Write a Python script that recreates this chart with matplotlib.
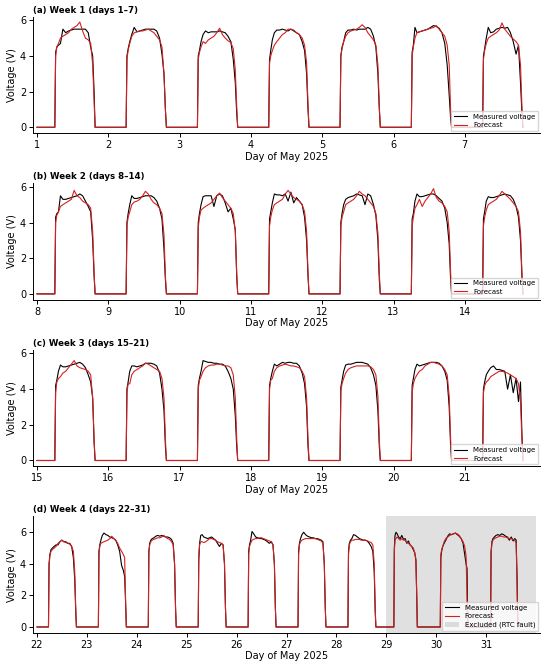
import numpy as np
import matplotlib
matplotlib.use("Agg")
import matplotlib.pyplot as plt

# --- data ------------------------------------------------------------------
# pulse start / end (fraction of the day) for May 1..31
rise = [0.25] * 21 + [0.23] * 7 + [0.15, 0.08, 0.087]
sset = [0.815] * 21 + [0.79] * 7 + [0.62, 0.63, 0.633]

# relative positions inside each daylight pulse where values were read
POS = [0.02, 0.05, 0.09, 0.14, 0.20, 0.27, 0.34, 0.41, 0.48, 0.55,
       0.62, 0.69, 0.76, 0.83, 0.89, 0.94, 0.975]

meas_w1 = [
    [4.2, 4.5, 4.6, 4.7, 5.5, 5.3, 5.4, 5.45, 5.5, 5.5, 5.5, 5.5, 5.5, 5.3, 4.5, 4.0, 2.0],
    [4.0, 4.4, 4.8, 5.2, 5.6, 5.35, 5.4, 5.45, 5.5, 5.5, 5.5, 5.5, 5.4, 5.0, 4.1, 3.0, 1.0],
    [4.0, 4.3, 4.8, 5.2, 5.4, 5.3, 5.35, 5.35, 5.35, 5.4, 5.35, 5.3, 5.1, 4.8, 3.8, 2.5, 0.8],
    [3.8, 4.3, 4.9, 5.3, 5.45, 5.45, 5.5, 5.45, 5.4, 5.5, 5.4, 5.3, 5.2, 4.8, 4.3, 3.0, 1.0],
    [4.0, 4.5, 4.8, 5.3, 5.45, 5.45, 5.5, 5.45, 5.5, 5.5, 5.5, 5.6, 5.5, 5.1, 4.5, 3.0, 1.0],
    [4.2, 4.6, 5.6, 5.3, 5.35, 5.4, 5.45, 5.5, 5.6, 5.7, 5.65, 5.55, 5.3, 4.7, 3.5, 1.8, 0.5],
    [4.0, 4.4, 5.0, 5.6, 5.3, 5.35, 5.5, 5.55, 5.6, 5.55, 5.6, 5.3, 4.8, 4.1, 4.6, 2.5, 0.8],
]
fc_w1 = [
    [4.0, 4.5, 4.7, 5.0, 5.1, 5.2, 5.3, 5.5, 5.6, 5.7, 5.9, 5.4, 5.0, 4.9, 4.7, 3.5, 1.5],
    [3.8, 4.3, 4.7, 5.1, 5.3, 5.35, 5.4, 5.4, 5.45, 5.5, 5.4, 5.3, 5.1, 4.9, 4.5, 3.0, 1.0],
    [3.8, 4.2, 4.5, 4.8, 4.7, 4.9, 5.0, 5.1, 5.3, 5.55, 5.2, 5.0, 4.85, 4.75, 4.4, 3.2, 1.2],
    [3.6, 4.0, 4.3, 4.6, 4.8, 5.0, 5.2, 5.3, 5.5, 5.5, 5.45, 5.3, 5.2, 5.0, 4.6, 3.6, 1.3],
    [4.0, 4.4, 4.8, 5.1, 5.3, 5.4, 5.45, 5.5, 5.6, 5.75, 5.6, 5.3, 5.1, 4.9, 4.6, 3.5, 1.2],
    [4.0, 4.5, 5.0, 5.3, 5.35, 5.4, 5.45, 5.5, 5.55, 5.6, 5.7, 5.5, 5.3, 5.1, 4.6, 3.5, 1.0],
    [3.8, 4.3, 4.7, 5.0, 5.1, 5.2, 5.3, 5.45, 5.85, 5.5, 5.3, 5.1, 4.95, 4.8, 4.6, 3.5, 1.2],
]

meas_w2 = [
    [4.3, 4.5, 4.6, 5.5, 5.3, 5.3, 5.35, 5.4, 5.45, 5.5, 5.6, 5.5, 5.2, 4.9, 4.6, 3.0, 1.0],
    [4.0, 4.5, 5.0, 5.5, 5.35, 5.35, 5.4, 5.45, 5.5, 5.5, 5.5, 5.4, 5.2, 4.8, 4.2, 2.5, 0.8],
    [4.0, 4.5, 5.0, 5.45, 5.5, 5.5, 5.5, 4.9, 5.5, 5.6, 5.5, 5.1, 4.6, 4.8, 4.2, 3.6, 1.0],
    [4.2, 4.6, 5.1, 5.6, 5.55, 5.55, 5.5, 5.6, 5.2, 5.7, 5.1, 5.4, 5.2, 5.0, 4.3, 3.0, 1.0],
    [4.0, 4.5, 5.0, 5.3, 5.4, 5.45, 5.5, 5.6, 5.55, 5.5, 5.0, 5.6, 5.5, 5.0, 4.4, 3.0, 0.8],
    [4.2, 4.5, 5.2, 5.6, 5.45, 5.45, 5.5, 5.55, 5.6, 5.6, 5.5, 5.35, 5.2, 4.8, 4.0, 2.8, 0.8],
    [4.2, 4.6, 5.2, 5.45, 5.4, 5.4, 5.45, 5.5, 5.55, 5.6, 5.55, 5.5, 5.3, 4.9, 4.3, 3.0, 1.0],
]
fc_w2 = [
    [4.0, 4.4, 4.6, 4.9, 5.0, 5.1, 5.2, 5.3, 5.8, 5.5, 5.4, 5.2, 5.1, 5.0, 4.8, 3.5, 1.2],
    [3.8, 4.3, 4.6, 5.0, 5.15, 5.2, 5.3, 5.5, 5.75, 5.6, 5.3, 5.1, 5.0, 4.8, 4.5, 3.3, 1.0],
    [3.7, 4.3, 4.7, 4.8, 4.9, 5.0, 5.1, 5.3, 5.5, 5.65, 5.4, 5.2, 5.0, 4.8, 4.5, 3.5, 1.2],
    [3.8, 4.3, 4.7, 5.0, 5.1, 5.2, 5.3, 5.6, 5.8, 5.6, 5.4, 5.3, 5.2, 5.0, 4.6, 3.5, 1.2],
    [3.8, 4.3, 4.6, 5.0, 5.1, 5.2, 5.3, 5.5, 5.75, 5.6, 5.5, 5.3, 5.1, 4.9, 4.5, 3.4, 1.2],
    [3.8, 4.3, 4.8, 5.0, 5.3, 4.9, 5.2, 5.4, 5.6, 5.9, 5.4, 5.2, 5.1, 4.9, 4.6, 3.5, 1.2],
    [3.8, 4.3, 4.7, 5.0, 5.1, 5.2, 5.3, 5.5, 5.75, 5.6, 5.45, 5.3, 5.1, 4.9, 4.6, 3.5, 1.2],
]

meas_w3 = [
    [4.2, 4.5, 5.0, 5.35, 5.25, 5.25, 5.3, 5.35, 5.4, 5.45, 5.5, 5.4, 5.2, 4.8, 4.4, 3.5, 1.0],
    [4.0, 4.4, 5.0, 5.3, 5.3, 5.25, 5.3, 5.35, 5.45, 5.45, 5.45, 5.4, 5.3, 4.9, 4.0, 2.8, 0.8],
    [4.2, 4.6, 5.0, 5.6, 5.55, 5.5, 5.5, 5.45, 5.45, 5.4, 5.4, 5.3, 5.0, 4.6, 4.0, 2.5, 0.8],
    [4.2, 4.6, 5.0, 5.4, 5.3, 5.4, 5.5, 5.45, 5.5, 5.5, 5.45, 5.45, 5.3, 4.9, 4.3, 3.0, 0.8],
    [4.1, 4.5, 5.0, 5.35, 5.4, 5.4, 5.45, 5.5, 5.5, 5.5, 5.45, 5.4, 5.2, 4.8, 4.2, 2.8, 0.8],
    [4.2, 4.6, 5.1, 5.4, 5.3, 5.35, 5.4, 5.45, 5.5, 5.5, 5.5, 5.45, 5.3, 5.0, 4.5, 3.0, 0.8],
    [4.0, 4.4, 4.8, 5.0, 5.2, 5.3, 5.1, 5.1, 5.05, 5.0, 4.0, 4.8, 3.8, 4.6, 3.3, 4.4, 1.5],
]
fc_w3 = [
    [3.8, 4.4, 4.6, 4.7, 4.9, 5.0, 5.2, 5.4, 5.6, 5.3, 5.2, 5.15, 5.1, 5.0, 4.8, 3.5, 1.2],
    [3.8, 4.3, 4.3, 4.8, 5.0, 5.1, 5.2, 5.3, 5.45, 5.4, 5.3, 5.2, 5.1, 5.0, 4.6, 3.5, 1.2],
    [4.0, 4.5, 4.7, 5.0, 5.2, 5.3, 5.35, 5.35, 5.4, 5.4, 5.35, 5.3, 5.3, 5.2, 4.8, 3.5, 1.2],
    [4.0, 4.5, 4.6, 5.0, 5.2, 5.3, 5.35, 5.4, 5.35, 5.3, 5.3, 5.25, 5.2, 5.0, 4.7, 3.5, 1.2],
    [3.9, 4.3, 4.6, 4.9, 5.1, 5.2, 5.25, 5.3, 5.3, 5.3, 5.3, 5.3, 5.25, 5.1, 4.8, 3.6, 1.2],
    [3.8, 4.3, 4.6, 4.8, 5.0, 5.1, 5.3, 5.4, 5.5, 5.5, 5.45, 5.4, 5.3, 5.1, 4.8, 3.6, 1.2],
    [3.8, 4.2, 4.4, 4.5, 4.7, 4.8, 4.9, 5.0, 5.0, 4.95, 4.9, 4.8, 4.7, 4.6, 4.3, 3.3, 1.2],
]

meas_w4 = [
    [4.0, 4.6, 4.9, 5.0, 5.1, 5.2, 5.2, 5.4, 5.5, 5.4, 5.4, 5.3, 5.3, 5.1, 4.4, 3.0, 1.0],
    [4.8, 5.2, 5.5, 5.8, 5.95, 5.85, 5.8, 5.7, 5.65, 5.6, 5.5, 5.2, 4.8, 3.9, 3.6, 3.2, 1.5],
    [4.8, 5.3, 5.5, 5.6, 5.65, 5.75, 5.8, 5.75, 5.8, 5.75, 5.7, 5.7, 5.65, 5.55, 5.3, 4.0, 1.2],
    [4.2, 5.3, 5.8, 5.85, 5.7, 5.65, 5.6, 5.65, 5.7, 5.6, 5.5, 5.3, 5.1, 5.3, 5.2, 4.0, 1.2],
    [4.8, 5.2, 5.5, 6.05, 5.9, 5.7, 5.65, 5.6, 5.6, 5.55, 5.5, 5.4, 5.3, 5.4, 5.2, 4.0, 1.2],
    [4.8, 5.3, 5.6, 5.85, 6.0, 5.85, 5.75, 5.7, 5.65, 5.65, 5.6, 5.6, 5.55, 5.5, 5.4, 4.0, 1.2],
    [4.8, 5.3, 5.5, 5.6, 5.85, 5.8, 5.7, 5.6, 5.55, 5.5, 5.5, 5.45, 5.3, 5.1, 4.8, 3.5, 1.0],
    [5.0, 5.8, 6.0, 5.9, 5.7, 5.6, 5.8, 5.55, 5.6, 5.3, 5.45, 5.2, 5.1, 4.9, 4.7, 4.2, 2.0],
    [4.4, 4.8, 5.1, 5.3, 5.5, 5.75, 5.9, 5.85, 5.9, 5.95, 5.85, 5.75, 5.6, 5.3, 4.6, 4.0, 3.7],
    [4.8, 5.4, 5.6, 5.7, 5.8, 5.85, 5.8, 5.9, 5.85, 5.75, 5.7, 5.5, 5.7, 5.45, 5.6, 5.5, 3.0],
]
fc_w4 = [
    [3.8, 4.5, 4.8, 4.9, 5.0, 5.1, 5.3, 5.4, 5.5, 5.4, 5.35, 5.3, 5.25, 5.1, 4.8, 3.5, 1.2],
    [4.6, 5.1, 5.3, 5.35, 5.4, 5.45, 5.5, 5.6, 5.75, 5.6, 5.5, 5.3, 5.0, 4.8, 4.6, 4.4, 1.5],
    [4.6, 5.2, 5.4, 5.5, 5.55, 5.6, 5.65, 5.65, 5.7, 5.8, 5.7, 5.6, 5.55, 5.4, 5.2, 4.0, 1.2],
    [4.6, 5.2, 5.4, 5.4, 5.35, 5.4, 5.5, 5.6, 5.6, 5.55, 5.5, 5.4, 5.35, 5.3, 5.2, 4.0, 1.2],
    [4.6, 5.1, 5.3, 5.5, 5.55, 5.6, 5.6, 5.65, 5.65, 5.6, 5.55, 5.5, 5.45, 5.4, 5.2, 4.0, 1.2],
    [4.6, 5.2, 5.4, 5.5, 5.55, 5.6, 5.6, 5.6, 5.6, 5.6, 5.6, 5.55, 5.5, 5.45, 5.3, 4.0, 1.2],
    [4.6, 5.2, 5.4, 5.5, 5.5, 5.55, 5.55, 5.55, 5.5, 5.5, 5.5, 5.45, 5.4, 5.35, 5.2, 4.0, 1.2],
    [4.8, 5.5, 5.6, 5.7, 5.6, 5.5, 5.6, 5.5, 5.5, 5.35, 5.3, 5.2, 5.1, 5.0, 4.7, 4.3, 2.0],
    [4.6, 4.9, 5.1, 5.4, 5.6, 5.7, 5.8, 5.85, 5.9, 5.95, 5.9, 5.8, 5.6, 5.4, 5.1, 4.5, 2.0],
    [4.6, 5.3, 5.5, 5.6, 5.65, 5.7, 5.75, 5.75, 5.7, 5.7, 5.65, 5.6, 5.6, 5.55, 5.5, 5.3, 2.5],
]

week_days = [list(range(1, 8)), list(range(8, 15)), list(range(15, 22)), list(range(22, 32))]
week_titles = ["(a) Week 1 (days 1\u20137)", "(b) Week 2 (days 8\u201314)",
               "(c) Week 3 (days 15\u201321)", "(d) Week 4 (days 22\u201331)"]
week_meas = [meas_w1, meas_w2, meas_w3, meas_w4]
week_fc = [fc_w1, fc_w2, fc_w3, fc_w4]
week_span = [7, 7, 7, 10]
excluded = (29, 32)


def build_series(days, levels):
    # zero at night, read values across each daylight pulse
    t = [days[0]]
    v = [0.0]
    for d, lv in zip(days, levels):
        r0, r1 = rise[d - 1], sset[d - 1]
        t.append(d + r0)
        v.append(0.0)
        for p, val in zip(POS, lv):
            t.append(d + r0 + p * (r1 - r0))
            v.append(val)
        t.append(d + r1)
        v.append(0.0)
    return t, v


plt.rcParams.update({
    "font.family": "DejaVu Sans",
    "font.size": 6.5,
    "axes.linewidth": 0.7,
    "xtick.major.width": 0.7,
    "ytick.major.width": 0.7,
    "xtick.major.size": 3,
    "ytick.major.size": 3,
})

fig, axes = plt.subplots(4, 1, figsize=(5.5, 6.67), dpi=100)
fig.subplots_adjust(left=0.06, right=0.982, top=0.975, bottom=0.051, hspace=0.43)

for i, ax in enumerate(axes):
    days = week_days[i]
    tm, vm = build_series(days, week_meas[i])
    tf, vf = build_series(days, week_fc[i])

    if i == 3:
        ax.axvspan(excluded[0], excluded[1], color="0.5", alpha=0.24, lw=0,
                   label="Excluded (RTC fault)")
    ax.plot(tm, vm, color="black", lw=0.8, label="Measured voltage")
    ax.plot(tf, vf, color="#d62020", lw=0.8, label="Forecast")

    start = days[0]
    span = week_span[i]
    pad = 0.008 * span
    ax.set_xlim(start - pad, start + span + pad)
    if i == 3:
        ax.set_ylim(-0.38, 7.0)
    else:
        ax.set_ylim(-0.33, 6.2)
    ax.set_xticks(days)
    ax.set_yticks([0, 2, 4, 6])
    ax.tick_params(labelsize=7, pad=2)

    ax.set_title(week_titles[i], loc="left", fontsize=6.2, fontweight="bold", pad=3)
    ax.set_xlabel("Day of May 2025", fontsize=7, labelpad=1)
    ax.set_ylabel("Voltage (V)", fontsize=7, labelpad=2)
    ax.spines["top"].set_visible(False)
    ax.spines["right"].set_visible(False)

    handles, labels = ax.get_legend_handles_labels()
    if i == 3:
        order = [1, 2, 0]
        handles = [handles[k] for k in order]
        labels = [labels[k] for k in order]
    ax.legend(handles, labels, loc="lower right", fontsize=5, frameon=True,
              fancybox=False, borderpad=0.4, handlelength=2.0, labelspacing=0.35,
              borderaxespad=0.3)

fig.savefig("out.png", dpi=100)
